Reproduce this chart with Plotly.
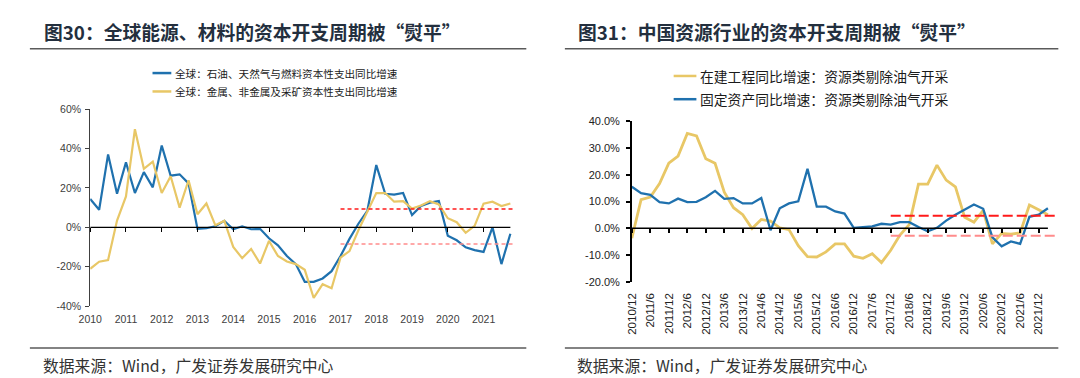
import plotly.graph_objects as go

W, H = 1080, 378

# ---------------- Left chart data (quarterly, 2010Q1 - 2021Q4) ----------------
left_years = ["2010", "2011", "2012", "2013", "2014", "2015",
              "2016", "2017", "2018", "2019", "2020", "2021"]
left_quarters = [f"{y}Q{q}" for y in left_years for q in (1, 2, 3, 4)]
left_blue_name = "全球：石油、天然气与燃料资本性支出同比增速"
left_yellow_name = "全球：金属、非金属及采矿资本性支出同比增速"
left_blue = [14.4, 8.9, 37.0, 17.0, 33.0, 17.4, 28.0, 20.3, 41.5, 26.2, 26.9, 22.3,
             -0.8, -0.5, 0.5, 3.3, -1.0, 0.5, -1.0, -0.8, -5.6, -9.2, -14.6, -18.7,
             -27.7, -27.7, -26.0, -22.3, -14.6, -5.9, 1.8, 8.4, 31.6, 17.0, 16.6, 17.4,
             6.2, 10.8, 12.5, 13.3, -4.3, -6.6, -10.2, -11.6, -12.5, 0.0, -18.7, -3.3]
left_yellow = [-21.1, -17.5, -16.6, 3.4, 15.7, 49.8, 29.7, 33.4, 17.4, 25.9, 10.0, 23.9,
               6.6, 12.1, 1.0, 3.3, -10.0, -15.7, -11.0, -18.4, -6.9, -14.6, -17.4, -18.7,
               -21.6, -35.9, -28.9, -31.0, -15.4, -12.1, -1.5, 8.4, 17.4, 17.4, 13.0, 13.3,
               9.5, 11.1, 13.3, 11.6, 4.6, 2.6, -2.8, 0.7, 12.0, 13.0, 10.8, 12.1]
left_ref_high, left_ref_low = 9.3, -8.5
left_ref_start = "2017Q1"
left_ytick_vals = [-40, -20, 0, 20, 40, 60]
left_ytick_text = ["-40%", "-20%", "0%", "20%", "40%", "60%"]

# ---------------- Right chart data (quarterly, 2010/12 - 2022/3) ----------------
right_periods = ["2010/12"] + [f"{y}/{m}" for y in range(2011, 2022) for m in (3, 6, 9, 12)] + ["2022/3"]
right_tick_labels = ["2010/12", "2011/6", "2011/12", "2012/6", "2012/12", "2013/6", "2013/12",
                     "2014/6", "2014/12", "2015/6", "2015/12", "2016/6", "2016/12", "2017/6",
                     "2017/12", "2018/6", "2018/12", "2019/6", "2019/12", "2020/6", "2020/12",
                     "2021/6", "2021/12"]
right_yellow_name = "在建工程同比增速：资源类剔除油气开采"
right_blue_name = "固定资产同比增速：资源类剔除油气开采"
right_yellow = [-3.7, 10.7, 11.7, 16.7, 24.3, 27.0, 35.4, 34.5, 26.0, 24.3, 13.5, 7.7,
                5.1, -0.1, 3.3, 2.7, 0.2, -0.5, -6.5, -10.6, -10.7, -8.8, -5.8, -5.8,
                -10.4, -11.2, -9.5, -12.8, -8.2, -2.5, 1.4, 16.5, 16.5, 23.6, 18.0, 15.5,
                4.1, 2.3, 6.7, -5.8, -1.9, -2.2, -1.7, 8.7, 6.9, 5.1]
right_blue = [15.5, 13.1, 12.5, 9.8, 9.3, 11.1, 9.8, 9.9, 11.6, 14.0, 11.0, 11.3,
              9.3, 9.3, 11.3, -0.7, 7.5, 9.3, 10.1, 22.2, 8.1, 8.1, 6.3, 5.5,
              0.2, 0.5, 0.7, 1.7, 1.4, 2.3, 2.3, 0.5, -1.1, 0.2, 2.9, 5.1,
              6.9, 8.9, 7.3, -3.4, -6.7, -4.9, -5.8, 4.3, 5.1, 7.5]
right_ref_high, right_ref_low = 4.7, -2.8
right_ref_start = "2017/12"
right_ytick_vals = [-20, -10, 0, 10, 20, 30, 40]
right_ytick_text = ["-20.0%", "-10.0%", "0.0%", "10.0%", "20.0%", "30.0%", "40.0%"]

# ---------------- Styles ----------------
BLUE = "#1F71AE"
YELLOW = "#E8C766"
RED = "#FF1A1A"
PINK = "#FF8C8C"
TITLE_COLOR = "#232F3E"
CJK = "Noto Sans CJK SC, Noto Sans, sans-serif"
NUM = "Liberation Sans, Arial, sans-serif"

def px_x(p):
    return p / W

def px_y(p):
    return 1 - p / H

# layout geometry (pixels)
L_X0, L_X1 = 71, 499
L_Y_TOP, L_Y_BOT = 98.3, 301.6
L_STEP = 9.04
L_XMAX = (L_X1 - L_X0) / L_STEP
L_YRANGE = [-40, 60]

R_X0, R_X1 = 618.7, 1050
R_Y_TOP, R_Y_BOT = 110.7, 276.7
R_STEP = 9.35
R_XMAX = (R_X1 - R_X0) / R_STEP
R_YRANGE = [-20, 40]

l_dom_y = [px_y(L_Y_BOT), px_y(L_Y_TOP)]
r_dom_y = [px_y(R_Y_BOT), px_y(R_Y_TOP)]
l_zero_pos = l_dom_y[0] + (0 - L_YRANGE[0]) / (L_YRANGE[1] - L_YRANGE[0]) * (l_dom_y[1] - l_dom_y[0])
r_zero_pos = r_dom_y[0] + (0 - R_YRANGE[0]) / (R_YRANGE[1] - R_YRANGE[0]) * (r_dom_y[1] - r_dom_y[0])

fig = go.Figure()

# zero lines (attached to the tick-only overlay axes)
fig.add_trace(go.Scatter(x=[0, len(left_quarters) - 1], y=[0, 0], mode="lines",
                         line=dict(color="#000000", width=1.3), xaxis="x3", yaxis="y",
                         hoverinfo="skip", showlegend=False))
fig.add_trace(go.Scatter(x=[0, len(right_periods) - 1], y=[0, 0], mode="lines",
                         line=dict(color="#000000", width=1.5), xaxis="x4", yaxis="y2",
                         hoverinfo="skip", showlegend=False))

# left series
fig.add_trace(go.Scatter(x=left_quarters, y=left_blue, name=left_blue_name, mode="lines",
                         line=dict(color=BLUE, width=2.2), xaxis="x", yaxis="y", showlegend=False))
fig.add_trace(go.Scatter(x=left_quarters, y=left_yellow, name=left_yellow_name, mode="lines",
                         line=dict(color=YELLOW, width=2.2), xaxis="x", yaxis="y", showlegend=False))
# right series
fig.add_trace(go.Scatter(x=right_periods, y=right_yellow, name=right_yellow_name, mode="lines",
                         line=dict(color=YELLOW, width=2.8), xaxis="x2", yaxis="y2", showlegend=False))
fig.add_trace(go.Scatter(x=right_periods, y=right_blue, name=right_blue_name, mode="lines",
                         line=dict(color=BLUE, width=2.3), xaxis="x2", yaxis="y2", showlegend=False))

shapes = []
# reference dashed lines
l_start = left_quarters.index(left_ref_start)
shapes.append(dict(type="line", xref="x3", yref="y", x0=l_start, x1=L_XMAX, y0=left_ref_high, y1=left_ref_high,
                   line=dict(color=RED, width=1.5, dash="4px,3px"), layer="above"))
shapes.append(dict(type="line", xref="x3", yref="y", x0=l_start, x1=L_XMAX, y0=left_ref_low, y1=left_ref_low,
                   line=dict(color=PINK, width=1.5, dash="4px,3px"), layer="above"))
r_start = right_periods.index(right_ref_start)
shapes.append(dict(type="line", xref="x4", yref="y2", x0=r_start, x1=R_XMAX, y0=right_ref_high, y1=right_ref_high,
                   line=dict(color=RED, width=2, dash="10px,4px"), layer="above"))
shapes.append(dict(type="line", xref="x4", yref="y2", x0=r_start, x1=R_XMAX, y0=right_ref_low, y1=right_ref_low,
                   line=dict(color=PINK, width=2, dash="10px,4px"), layer="above"))

# header / footer rules
for (xa, xb) in [(10, 512), (551, 1050)]:
    for yy in (36, 345):
        shapes.append(dict(type="line", xref="paper", yref="paper", x0=px_x(xa), x1=px_x(xb),
                           y0=px_y(yy), y1=px_y(yy), line=dict(color="#5A5A5A", width=1.5)))

# manual legends
legend_items = [
    (134, 153, 61, BLUE, left_blue_name, 10.6, 2.5),
    (134, 153, 80, YELLOW, left_yellow_name, 10.6, 2.5),
    (661, 684, 64, YELLOW, right_yellow_name, 13.8, 2.5),
    (661, 684, 88, BLUE, right_blue_name, 13.8, 2.5),
]
annotations = []
for xa, xb, yy, col, txt, fs, lw in legend_items:
    shapes.append(dict(type="line", xref="paper", yref="paper", x0=px_x(xa), x1=px_x(xb),
                       y0=px_y(yy), y1=px_y(yy), line=dict(color=col, width=lw)))
    annotations.append(dict(text=txt, xref="paper", yref="paper", x=px_x(xb + 1.5), y=px_y(yy),
                            xanchor="left", yanchor="middle", showarrow=False,
                            font=dict(family=CJK, size=fs, color="#1A1A1A")))

# titles
for xx, txt in [(22, "图30：全球能源、材料的资本开支周期被“熨平”"),
                (562, "图31：中国资源行业的资本开支周期被“熨平”")]:
    annotations.append(dict(text=f"<b>{txt}</b>", xref="paper", yref="paper", x=px_x(xx), y=px_y(18.5),
                            xanchor="left", yanchor="middle", showarrow=False,
                            font=dict(family=CJK, size=18.8, color=TITLE_COLOR)))
# sources
for xx in (21, 561):
    annotations.append(dict(text="数据来源：Wind，广发证券发展研究中心", xref="paper", yref="paper",
                            x=px_x(xx), y=px_y(363), xanchor="left", yanchor="middle", showarrow=False,
                            font=dict(family=CJK, size=15.8, color="#333333")))

left_tick_idx = [left_quarters.index(f"{y}Q1") for y in left_years]
right_tick_idx = [right_periods.index(t) for t in right_tick_labels]

fig.update_layout(
    width=W, height=H, autosize=False,
    margin=dict(l=0, r=0, t=0, b=0),
    paper_bgcolor="white", plot_bgcolor="rgba(0,0,0,0)",
    showlegend=False,
    shapes=shapes, annotations=annotations,
    xaxis=dict(domain=[px_x(L_X0), px_x(L_X1)], anchor="y", type="category",
               range=[0, L_XMAX], tickmode="array",
               tickvals=[f"{y}Q1" for y in left_years], ticktext=left_years,
               tickangle=0, showline=False, ticks="", showgrid=False, zeroline=False,
               ticklabelstandoff=5, tickfont=dict(family=NUM, size=10.5, color="#404040")),
    yaxis=dict(domain=l_dom_y, anchor="x", range=L_YRANGE, tickmode="array",
               tickvals=left_ytick_vals, ticktext=left_ytick_text,
               showline=True, linecolor="#404040", linewidth=1, ticks="outside", ticklen=4,
               tickcolor="#404040", tickwidth=1, showgrid=False, zeroline=False,
               ticklabelstandoff=2, tickfont=dict(family=NUM, size=10.5, color="#404040")),
    xaxis3=dict(overlaying="x", anchor="free", position=l_zero_pos, side="bottom", type="linear",
                range=[0, L_XMAX], tickmode="array", tickvals=left_tick_idx,
                showticklabels=False, ticks="outside", ticklen=4, tickcolor="#000000", tickwidth=1,
                showline=False, showgrid=False, zeroline=False),
    xaxis2=dict(domain=[px_x(R_X0), px_x(R_X1)], anchor="y2", type="category",
                range=[0, R_XMAX], tickmode="array", tickvals=right_tick_labels, ticktext=right_tick_labels,
                tickangle=-90, showline=False, ticks="", showgrid=False, zeroline=False,
                ticklabelstandoff=8, tickfont=dict(family=NUM, size=11.5, color="#222222")),
    yaxis2=dict(domain=r_dom_y, anchor="x2", range=R_YRANGE, tickmode="array",
                tickvals=right_ytick_vals, ticktext=right_ytick_text,
                showline=True, linecolor="#000000", linewidth=1.5, ticks="outside", ticklen=4,
                tickcolor="#000000", tickwidth=1.5, showgrid=False, zeroline=False,
                ticklabelstandoff=4, tickfont=dict(family=NUM, size=11, color="#222222")),
    xaxis4=dict(overlaying="x2", anchor="free", position=r_zero_pos, side="bottom", type="linear",
                range=[0, R_XMAX], tickmode="array", tickvals=right_tick_idx,
                showticklabels=False, ticks="outside", ticklen=4, tickcolor="#000000", tickwidth=1.5,
                showline=False, showgrid=False, zeroline=False),
)

fig.write_html("out.html")
